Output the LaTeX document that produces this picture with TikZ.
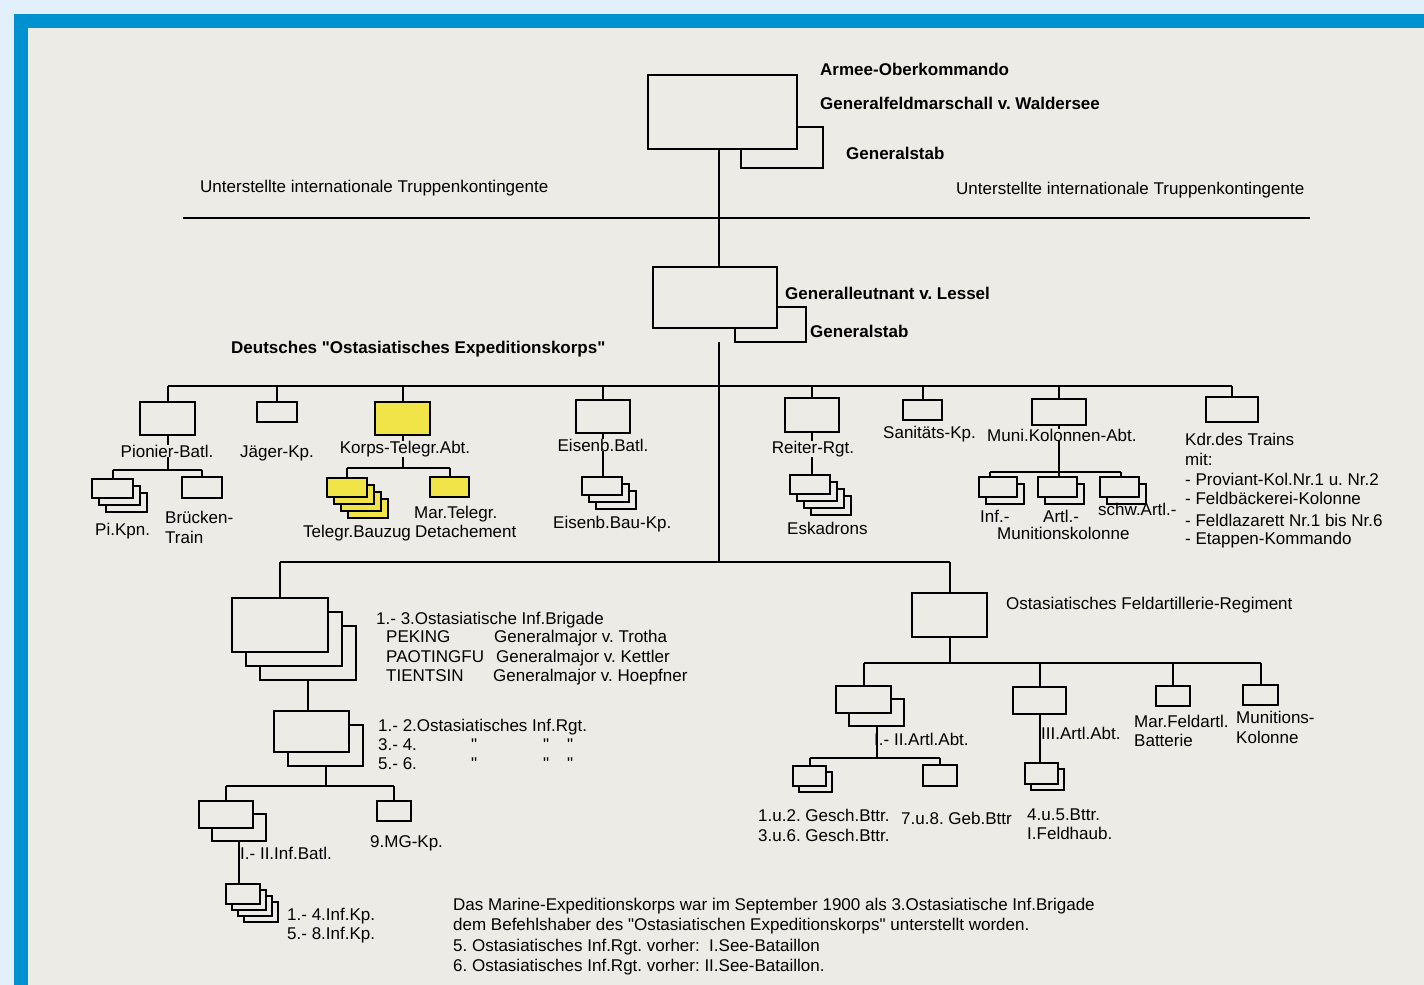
\documentclass[tikz,border=0pt]{standalone}
\usepackage{fontspec}
\setmainfont{Liberation Sans}[Ligatures=TeXOff]
\definecolor{paper}{RGB}{237,235,229}
\definecolor{frameblue}{RGB}{0,146,208}
\definecolor{outerblue}{RGB}{226,240,251}
\definecolor{tyellow}{RGB}{240,228,72}
\newcommand\dq{\symbol{34}}
\newcommand\obox[6][]{%
  \pgfmathsetmacro\obw{#5-(#3)}%
  \pgfmathsetmacro\obh{#6-(#4)}%
  \pgfmathsetmacro\obx{(#3+#5)/2}%
  \pgfmathsetmacro\oby{(#4+#6)/2}%
  \node[bx,minimum width=\obw pt,minimum height=\obh pt,#1] (#2) at (\obx,\oby) {};}
\newcommand\ostack[8][]{%
  \foreach \k in {#3,...,0}{%
    \pgfmathsetmacro\sxa{#5+\k*#4}\pgfmathsetmacro\sya{#6+\k*#4}%
    \pgfmathsetmacro\sxb{#7+\k*#4}\pgfmathsetmacro\syb{#8+\k*#4}%
    \obox[#1]{#2-\k}{\sxa}{\sya}{\sxb}{\syb}}}
\begin{document}
\frenchspacing
\begin{tikzpicture}[x=1pt,y=-1pt,
  bx/.style={draw=black,line width=2pt,fill=paper,inner sep=0pt,outer sep=0pt},
  yel/.style={fill=tyellow},
  ln/.style={draw=black,line width=2pt},
  tx/.style={font=\fontsize{17}{20}\selectfont,inner sep=0pt,anchor=base west},
  tb/.style={font=\fontsize{17}{20}\selectfont\bfseries,inner sep=0pt,anchor=base west},
  tc/.style={font=\fontsize{17}{20}\selectfont,inner sep=0pt,anchor=base,fill=paper}]
\useasboundingbox (0,0) rectangle (1424,985);
\fill[outerblue] (0,0) rectangle (1424,985);
\fill[frameblue] (14,14) rectangle (1424,985);
\fill[paper] (28,28) rectangle (1424,985);

% ---------- top ----------
\obox{aokstab}{741}{127}{823}{168}
\obox{aok}{648}{75}{797}{149}
\coordinate (tr) at (719,0);
\coordinate (hlL) at (183,218);
\coordinate (hlR) at (1310,218);
\draw[ln] (hlL) -- (hlR);
\obox{lstab}{735}{307}{806}{342}
\obox{lessel}{653}{267}{777}{328}
\draw[ln] (aok.south -| tr) -- (lessel.north -| tr);
\node[tb] (t1) at (820,75) {Armee-Oberkommando};
\node[tb] (t2) at (820,109) {Generalfeldmarschall v. Waldersee};
\node[tb] (t3) at (846,159) {Generalstab};
\node[tx] (t4) at (200,192) {Unterstellte internationale Truppenkontingente};
\node[tx] (t5) at (956,194) {Unterstellte internationale Truppenkontingente};
\node[tb] (t6) at (785,299) {Generalleutnant v. Lessel};
\node[tb] (t7) at (810,337) {Generalstab};
\node[tb] (t8) at (231,353) {Deutsches \dq Ostasiatisches Expeditionskorps\dq};

% ---------- trunk ----------
\coordinate (b1) at (0,386);
\coordinate (b2) at (0,562);
\draw[ln] (lstab.south -| tr) -- (tr |- b2);

% ---------- row 1 ----------
\obox{pion}{140}{402}{195}{435}
\obox{jaeg}{257}{402}{297}{422}
\obox[yel]{ktel}{375}{402}{430}{435}
\obox{eisb}{576}{400}{630}{433}
\obox{reit}{785}{398}{839}{432}
\obox{sani}{903}{400}{942}{420}
\obox{muni}{1032}{399}{1086}{425}
\obox{kdr}{1206}{397}{1258}{422}
\draw[ln] (pion.north |- b1) -- (kdr.north |- b1);
\foreach \n in {pion,jaeg,ktel,eisb,reit,sani,muni,kdr}
  \draw[ln] (\n.north) -- (\n.north |- b1);

% Pionier
\coordinate (b1p) at (0,470);
\obox{bruck}{182}{477}{222}{498}
\ostack{pik}{2}{7}{92}{479}{133}{498}
\draw[ln] (pion.south) -- (pion.south |- b1p);
\draw[ln] (pik-0.north |- b1p) -- (bruck.north |- b1p);
\draw[ln] (pik-0.north) -- (pik-0.north |- b1p);
\draw[ln] (bruck.north) -- (bruck.north |- b1p);
\node[tc] (lpion) at (167,457) {Pionier-Batl.};
\node[tx] (lpik) at (95,535) {Pi.Kpn.};
\node[tx] (lbr1) at (165,523) {Brücken-};
\node[tx] (lbr2) at (165,543) {Train};
\node[tc] (ljaeg) at (277,457) {Jäger-Kp.};

% Korps-Telegr
\coordinate (b1k) at (0,468);
\ostack[yel]{tgb}{3}{7}{327}{478}{367}{497}
\obox[yel]{mtel}{430}{477}{469}{497}
\draw[ln] (ktel.south) -- (ktel.south |- b1k);
\draw[ln] (tgb-0.north |- b1k) -- (mtel.north |- b1k);
\draw[ln] (tgb-0.north) -- (tgb-0.north |- b1k);
\draw[ln] (mtel.north) -- (mtel.north |- b1k);
\node[tc] (lktel) at (405,453) {Korps-Telegr.Abt.};
\node[tx] (ltgb) at (303,537) {Telegr.Bauzug};
\node[tx] (lmt1) at (414,518) {Mar.Telegr.};
\node[tx] (lmt2) at (415,537) {Detachement};

% Eisenbahn
\ostack{ebk}{2}{7}{582}{477}{622}{495}
\draw[ln] (eisb.south) -- (ebk-0.north -| eisb.south);
\node[tc] (leisb) at (603,451) {Eisenb.Batl.};
\node[tx] (lebk) at (553,528) {Eisenb.Bau-Kp.};

% Reiter
\ostack{esk}{3}{7}{790}{475}{830}{494}
\draw[ln] (reit.south) -- (esk-0.north -| reit.south);
\node[tc] (lreit) at (813,453) {Reiter-Rgt.};
\node[tx] (lesk) at (787,534) {Eskadrons};

\node[tx] (lsani) at (883,438) {Sanitäts-Kp.};

% Munition
\coordinate (mi) at (990,472);
\coordinate (ms) at (1121,472);
\ostack{minf}{1}{7}{979}{477}{1017}{497}
\ostack{mart}{1}{7}{1038}{477}{1077}{497}
\ostack{mschw}{1}{7}{1100}{477}{1139}{497}
\draw[ln] (muni.south) -- (mart-0.north -| muni.south);
\draw[ln] (mi) -- (ms);
\draw[ln] (mi) -- (mi |- minf-0.north);
\draw[ln] (ms) -- (ms |- mschw-0.north);
\node[tc,anchor=base west] (lmuni) at (987,441) {Muni.Kolonnen-Abt.};
\node[tx] (lminf) at (980,522) {Inf.-};
\node[tx] (lmart) at (1043,522) {Artl.-};
\node[tx] (lmschw) at (1098,515) {schw.Artl.-};
\node[tx] (lmk) at (997,539) {Munitionskolonne};

% Kdr des Trains
\node[tx] (k1) at (1185,445) {Kdr.des Trains};
\node[tx] (k2) at (1185,465) {mit:};
\node[tx] (k3) at (1185,485) {- Proviant-Kol.Nr.1 u. Nr.2};
\node[tx] (k4) at (1185,504) {- Feldbäckerei-Kolonne};
\node[tx] (k5) at (1185,526) {- Feldlazarett Nr.1 bis Nr.6};
\node[tx] (k6) at (1185,544) {- Etappen-Kommando};

% ---------- lower ----------
\ostack{brig}{2}{14}{232}{598}{328}{652}
\obox{art}{912}{593}{987}{637}
\draw[ln] (brig-0.north |- b2) -- (art.north |- b2);
\draw[ln] (brig-0.north) -- (brig-0.north |- b2);
\draw[ln] (art.north) -- (art.north |- b2);

\node[tx] (br1) at (376,624) {1.- 3.Ostasiatische Inf.Brigade};
\node[tx] (br2) at (386,642) {PEKING};
\node[tx] (br3) at (494,642) {Generalmajor v. Trotha};
\node[tx] (br4) at (386,662) {PAOTINGFU};
\node[tx] (br5) at (496,662) {Generalmajor v. Kettler};
\node[tx] (br6) at (386,681) {TIENTSIN};
\node[tx] (br7) at (493,681) {Generalmajor v. Hoepfner};

\ostack{rgt}{1}{14}{274}{711}{349}{752}
\draw[ln] (brig-2.south) -- (rgt-0.north -| brig-2.south);
\node[tx] (rg1) at (378,731) {1.- 2.Ostasiatisches Inf.Rgt.};
\node[tx] (rg2) at (378,750) {3.- 4.};
\node[tx] (rg3) at (378,769) {5.- 6.};
\node[tx] (q1) at (471,750) {\dq};
\node[tx] (q2) at (543,750) {\dq};
\node[tx] (q3) at (567,750) {\dq};
\node[tx] (q4) at (471,769) {\dq};
\node[tx] (q5) at (543,769) {\dq};
\node[tx] (q6) at (567,769) {\dq};

\coordinate (b3) at (0,786);
\ostack{batl}{1}{13}{199}{801}{253}{828}
\obox{mg}{377}{801}{411}{821}
\draw[ln] (rgt-1.south) -- (rgt-1.south |- b3);
\draw[ln] (batl-0.north |- b3) -- (mg.north |- b3);
\draw[ln] (batl-0.north) -- (batl-0.north |- b3);
\draw[ln] (mg.north) -- (mg.north |- b3);
\node[tx] (lbatl) at (240,859) {I.- II.Inf.Batl.};
\node[tx] (lmg) at (370,847) {9.MG-Kp.};
\ostack{ikp}{3}{6}{226}{884}{260}{904}
\draw[ln] (batl-1.south) -- (ikp-0.north -| batl-1.south);
\node[tx] (lik1) at (287,920) {1.- 4.Inf.Kp.};
\node[tx] (lik2) at (287,939) {5.- 8.Inf.Kp.};

% ---------- artillery ----------
\node[tx] (lart) at (1006,609) {Ostasiatisches Feldartillerie-Regiment};
\coordinate (b4) at (0,663);
\ostack{a12}{1}{13}{836}{686}{891}{713}
\obox{abt3}{1013}{687}{1066}{714}
\obox{mfa}{1156}{686}{1190}{706}
\obox{mkol}{1243}{685}{1278}{705}
\draw[ln] (art.south) -- (art.south |- b4);
\draw[ln] (a12-0.north |- b4) -- (mkol.north |- b4);
\foreach \n in {a12-0,abt3,mfa,mkol}
  \draw[ln] (\n.north) -- (\n.north |- b4);

\coordinate (b5) at (0,758);
\ostack{g12}{1}{6}{793}{766}{826}{786}
\obox{g78}{923}{765}{957}{786}
\draw[ln] (a12-1.south) -- (a12-1.south |- b5);
\draw[ln] (g12-0.north |- b5) -- (g78.north |- b5);
\draw[ln] (g12-0.north) -- (g12-0.north |- b5);
\draw[ln] (g78.north) -- (g78.north |- b5);
\node[tx] (la12) at (874,745) {I.- II.Artl.Abt.};
\node[tx] (lg1) at (758,821) {1.u.2. Gesch.Bttr.};
\node[tx] (lg2) at (758,841) {3.u.6. Gesch.Bttr.};
\node[tx] (lg3) at (901,824) {7.u.8. Geb.Bttr};

\ostack{a3d}{1}{6}{1025}{763}{1058}{784}
\draw[ln] (abt3.south) -- (a3d-0.north -| abt3.south);
\node[tx] (la3) at (1041,739) {III.Artl.Abt.};
\node[tx] (la3a) at (1027,820) {4.u.5.Bttr.};
\node[tx] (la3b) at (1027,839) {I.Feldhaub.};
\node[tx] (lmfa1) at (1134,727) {Mar.Feldartl.};
\node[tx] (lmfa2) at (1134,746) {Batterie};
\node[tx] (lmk1) at (1236,723) {Munitions-};
\node[tx] (lmk2) at (1236,743) {Kolonne};

% ---------- note ----------
\node[tx] (n1) at (453,910) {Das Marine-Expeditionskorps war im September 1900 als 3.Ostasiatische Inf.Brigade};
\node[tx] (n2) at (453,930) {dem Befehlshaber des \dq Ostasiatischen Expeditionskorps\dq{} unterstellt worden.};
\node[tx] (n3) at (453,951) {5. Ostasiatisches Inf.Rgt. vorher:\ \ I.See-Bataillon};
\node[tx] (n4) at (453,971) {6. Ostasiatisches Inf.Rgt. vorher: II.See-Bataillon.};
\end{tikzpicture}
\end{document}
